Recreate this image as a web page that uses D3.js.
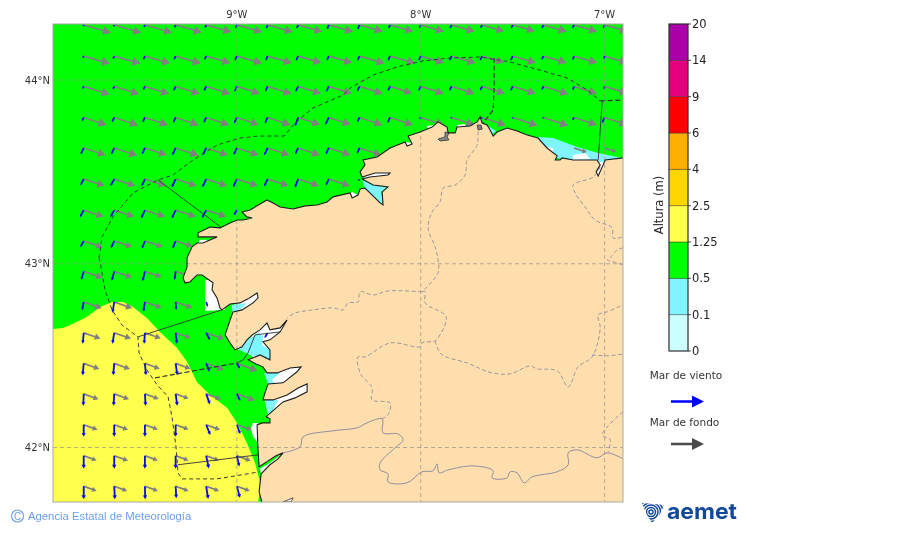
<!DOCTYPE html>
<html><head><meta charset="utf-8">
<script src="https://cdn.jsdelivr.net/npm/d3@7"></script>
<style>html,body{margin:0;padding:0;background:#fff}svg{display:block;filter:blur(.3px)}text{font-family:"DejaVu Sans",sans-serif}</style>
</head><body><div id="c"></div>
<script>
// ---------- axis ticks
const lonTicks=[-9,-8,-7], lonLabels=["9°W","8°W","7°W"];
const latTicks=[44,43,42], latLabels=["44°N","43°N","42°N"];
// ---------- colour bar
const levels=["0","0.1","0.5","1.25","2.5","4","6","9","14","20"];
const levelColors=["#ccffff","#80f5ff","#00ff00","#ffff4d","#ffd700","#ffaf00","#ff0000","#e6007e","#aa00aa"];
// ---------- wave-field grid (degrees)
const gridLons=[-9.833,-9.667,-9.5,-9.333,-9.167,-9,-8.833,-8.667,-8.5,-8.333,-8.167,-8,-7.833,-7.667,-7.5,-7.333,-7.167,-7];
const gridLats=[44.30,44.13,43.965,43.796,43.63,43.461,43.292,43.124,42.958,42.792,42.624,42.458,42.292,42.124,41.955,41.789];
// swell height (cm), per row/column; _ = land
const _=null;
const swell=[
[113,113,113,109,105,105,105,101,101,97,97,97,97,92,92,97,97,97],
[109,109,105,105,101,105,101,97,97,105,105,97,101,92,97,97,97,97],
[109,105,101,101,101,97,101,97,97,97,92,97,97,97,97,105,97,97],
[97,101,97,97,97,92,97,92,92,97,97,97,97,101,105,105,97,97],
[92,97,92,97,92,92,92,92,92,92,92,_,_,_,_,_,55,50],
[88,88,88,88,88,88,88,88,88,0],
[84,84,84,84,84,0],
[80,76,76,71],
[80,76,71,71],
[76,76,71,71,0],
[71,71,67,63,76,_,0],
[67,67,63,63,76,88],
[63,63,59,55,63,76],
[59,59,55,55,59,63],
[55,59,55,55,55,59],
[55,55,55,55,55,55]];
// wind-sea height (cm)
const windSea=[
[6,8,10,12,14,16,16,16,20,20,16,16,16,14,16,16,16,16],
[8,12,16,16,16,20,20,20,20,20,20,20,20,20,20,16,16,12],
[10,12,16,20,20,24,24,24,24,22,20,20,20,18,20,16,16,12],
[16,20,22,24,24,26,26,36,32,20,24,8,4,4,4,4,12,24],
[28,28,28,32,32,32,32,28,28,24,8,_,_,_,_,_,0,0],
[28,32,32,36,36,36,32,36,28,8],
[32,32,36,36,36,24],
[28,32,32,32],
[36,38,40,34],
[34,44,40,32,20],
[44,44,44,44,32,_,24],
[48,48,48,48,36,24],
[48,48,48,48,44,32],
[48,48,48,48,44,40],
[52,52,52,52,52,44],
[52,52,52,48,52,48]];
// swell direction: degrees below due east, per row
const swellAngle=[16,16,17,18,18,18,18,18,18,19,19,20,20,20,20,20];
// wind-sea direction: degrees from due south, positive to the east
const windAngle=[
[-22,-22,-22,-22,-22,-22,-22,-22,-22,-22,-22,-22,-22,-22,-22,-22,-22,-22],
[-25,-25,-25,-25,-25,-25,-25,-25,-25,-25,-25,-25,-25,-25,-25,-25,-15,-15],
[-25,-25,-25,-25,-25,-25,-25,-25,-25,-25,-25,-25,-25,-25,-25,-25,-15,-15],
[-25,-25,-25,-25,-25,-25,-25,-20,-25,-25,-25,-25,-25,-25,-25,-25,-25,-25],
[-25,-25,-25,-25,-25,-25,-25,-25,-25,-25,-25,0,0,0,0,0,0,0],
[-28,-28,-25,-25,-25,-25,-25,-20,-25,-25],
[-28,-28,-25,-25,-28,-30],
[-28,-25,-22,-22],
[-16,-15,-14,-7],
[-11,-9,-9,4,18],
[-5,-9,-4,7,28,0,-30],
[-5,-5,5,8,22,30],
[-2,-3,3,8,20,25],
[0,0,0,0,22,20],
[0,0,0,0,12,13],
[0,3,1,3,9,15]];
// ---------- geography [lon,lat]
const coast=[[-8.863,41.699],[-8.879,41.759],[-8.868,41.857],[-8.820,41.906],[-8.776,41.938],[-8.749,41.971],[-8.787,41.955],[-8.830,41.927],[-8.879,41.895],[-8.885,41.987],[-8.890,42.123],[-8.863,42.134],[-8.820,42.134],[-8.820,42.156],[-8.841,42.167],[-8.830,42.178],[-8.749,42.248],[-8.684,42.270],[-8.618,42.303],[-8.618,42.346],[-8.667,42.324],[-8.727,42.286],[-8.803,42.259],[-8.858,42.259],[-8.847,42.297],[-8.836,42.330],[-8.830,42.346],[-8.749,42.352],[-8.673,42.412],[-8.651,42.439],[-8.711,42.433],[-8.781,42.406],[-8.836,42.406],[-8.858,42.439],[-8.896,42.455],[-8.939,42.477],[-8.874,42.504],[-8.820,42.477],[-8.820,42.531],[-8.858,42.575],[-8.820,42.586],[-8.765,42.629],[-8.727,42.694],[-8.765,42.651],[-8.820,42.640],[-8.836,42.678],[-8.874,42.640],[-8.917,42.613],[-8.945,42.586],[-8.972,42.548],[-9.010,42.531],[-9.037,42.569],[-9.064,42.613],[-9.037,42.694],[-9.021,42.738],[-8.972,42.749],[-8.912,42.787],[-8.885,42.814],[-8.890,42.841],[-8.939,42.809],[-8.983,42.787],[-9.037,42.781],[-9.081,42.749],[-9.092,42.760],[-9.108,42.814],[-9.135,42.858],[-9.130,42.896],[-9.189,42.939],[-9.217,42.939],[-9.255,42.901],[-9.282,42.896],[-9.293,42.923],[-9.271,42.983],[-9.271,43.032],[-9.244,43.092],[-9.217,43.113],[-9.184,43.113],[-9.108,43.146],[-9.162,43.146],[-9.211,43.146],[-9.211,43.168],[-9.146,43.200],[-9.092,43.195],[-9.037,43.222],[-8.999,43.238],[-8.966,43.238],[-8.917,43.249],[-8.945,43.255],[-8.972,43.282],[-8.928,43.293],[-8.874,43.325],[-8.836,43.347],[-8.803,43.331],[-8.765,43.309],[-8.694,43.298],[-8.629,43.315],[-8.564,43.320],[-8.509,43.336],[-8.477,43.364],[-8.384,43.385],[-8.373,43.358],[-8.341,43.374],[-8.330,43.407],[-8.303,43.412],[-8.221,43.331],[-8.205,43.320],[-8.210,43.391],[-8.178,43.418],[-8.259,43.429],[-8.319,43.461],[-8.276,43.472],[-8.178,43.483],[-8.167,43.494],[-8.248,43.494],[-8.319,43.472],[-8.330,43.500],[-8.303,43.538],[-8.314,43.565],[-8.237,43.581],[-8.167,43.630],[-8.085,43.663],[-8.074,43.641],[-8.047,43.652],[-8.069,43.695],[-8.004,43.717],[-7.938,43.744],[-7.906,43.772],[-7.857,43.744],[-7.851,43.712],[-7.813,43.712],[-7.802,43.744],[-7.732,43.750],[-7.693,43.772],[-7.677,43.799],[-7.666,43.766],[-7.639,43.755],[-7.623,43.728],[-7.606,43.695],[-7.585,43.717],[-7.530,43.739],[-7.476,43.723],[-7.421,43.701],[-7.362,43.684],[-7.313,43.630],[-7.258,43.587],[-7.269,43.565],[-7.242,43.565],[-7.231,43.576],[-7.171,43.565],[-7.041,43.565],[-7.024,43.538],[-7.046,43.500],[-7.035,43.478],[-7.008,43.538],[-6.997,43.565],[-6.900,43.576]];
const landCorners=[[-6.900,41.70],[-8.863,41.70]];
const yellowArea=[[-10,42.645],[-9.946,42.651],[-9.891,42.673],[-9.815,42.711],[-9.744,42.765],[-9.679,42.792],[-9.619,42.792],[-9.565,42.765],[-9.489,42.705],[-9.418,42.629],[-9.325,42.542],[-9.271,42.466],[-9.217,42.357],[-9.146,42.286],[-9.053,42.216],[-8.999,42.134],[-8.945,42.025],[-8.901,41.916],[-8.874,41.813],[-8.879,41.732],[-8.885,41.703],[-10,41.703]];
const whiteAreas=[
[[-9.173,42.912],[-9.135,42.912],[-9.064,42.749],[-9.173,42.743]],
[[-8.912,42.134],[-8.885,42.134],[-8.885,42.025],[-8.912,42.058],[-8.923,42.107]],
[[-8.401,43.374],[-8.373,43.391],[-8.341,43.374],[-8.373,43.353]],
[[-9.206,43.130],[-9.162,43.130],[-9.162,43.113],[-9.206,43.113]],
[[-7.965,43.750],[-7.922,43.755],[-7.917,43.733],[-7.965,43.728]],
[[-7.802,43.755],[-7.759,43.761],[-7.753,43.739],[-7.802,43.739]],
[[-8.085,43.663],[-8.042,43.657],[-8.047,43.641],[-8.074,43.636]],
[[-7.041,43.559],[-6.997,43.559],[-7.008,43.532],[-7.035,43.478],[-7.052,43.500]],
[[-8.319,43.489],[-8.156,43.505],[-8.156,43.472],[-8.276,43.461],[-8.319,43.472]],
[[-9.026,42.771],[-8.874,42.847],[-8.874,42.803],[-8.972,42.738],[-9.021,42.727]],
[[-8.956,42.569],[-8.885,42.640],[-8.820,42.684],[-8.722,42.705],[-8.754,42.613],[-8.792,42.466],[-8.901,42.477],[-8.939,42.520]],
[[-8.841,42.412],[-8.645,42.450],[-8.667,42.401],[-8.743,42.341],[-8.830,42.335]],
[[-8.847,42.259],[-8.792,42.265],[-8.727,42.292],[-8.667,42.330],[-8.613,42.352],[-8.613,42.297],[-8.684,42.265],[-8.749,42.243],[-8.830,42.172]],
[[-8.874,41.884],[-8.820,41.916],[-8.776,41.949],[-8.743,41.976],[-8.776,41.933],[-8.820,41.900],[-8.868,41.857]]];
const cyanAreas=[
[[-7.362,43.690],[-7.280,43.684],[-7.149,43.636],[-7.035,43.603],[-6.905,43.576],[-6.997,43.554],[-7.171,43.554],[-7.258,43.576],[-7.313,43.625]],
[[-8.319,43.456],[-8.259,43.429],[-8.183,43.418],[-8.216,43.391],[-8.205,43.325],[-8.221,43.331],[-8.303,43.412]],
[[-9.026,42.776],[-8.945,42.787],[-8.972,42.760],[-9.021,42.732]],
[[-8.999,42.537],[-8.939,42.586],[-8.885,42.624],[-8.858,42.607],[-8.863,42.558],[-8.820,42.531],[-8.820,42.477],[-8.874,42.493],[-8.928,42.504]],
[[-8.852,42.406],[-8.765,42.406],[-8.809,42.368],[-8.792,42.346],[-8.830,42.346]],
[[-8.847,42.259],[-8.776,42.259],[-8.809,42.194],[-8.830,42.178]],
[[-7.645,43.755],[-7.590,43.723],[-7.612,43.706]]];
const cyanHoles=[
[[-7.313,43.636],[-7.280,43.630],[-7.280,43.608],[-7.308,43.614]],
[[-7.171,43.592],[-7.106,43.603],[-7.079,43.570],[-7.171,43.565]]];
const inlandWater=[
{fill:"#888",pts:[[-7.906,43.679],[-7.868,43.690],[-7.868,43.717],[-7.846,43.712],[-7.857,43.690],[-7.846,43.674],[-7.895,43.668]]},
{fill:"#777",pts:[[-7.693,43.755],[-7.672,43.755],[-7.666,43.733],[-7.688,43.728]]},
{fill:"#fff",pts:[[-8.749,41.704],[-8.694,41.726],[-8.705,41.704]]}];
const seaLimitDashed=[
[[-7.601,44.120],[-7.601,43.962],[-7.606,43.837],[-7.661,43.766]],
[[-9.445,42.379],[-8.999,42.460]],
[[-7.024,43.886],[-6.900,43.891]]];
const seaArc=[
[[-9.750,43.032],[-9.733,43.146],[-9.674,43.255],[-9.565,43.385],[-9.429,43.456],[-9.347,43.483],[-9.238,43.565],[-9.108,43.646],[-8.983,43.684],[-8.885,43.695],[-8.743,43.695],[-8.684,43.766],[-8.586,43.848],[-8.422,43.918],[-8.384,43.956],[-8.259,44.027],[-8.129,44.071],[-7.993,44.103],[-7.840,44.120],[-7.677,44.125],[-7.514,44.098],[-7.351,44.054],[-7.204,44.011],[-7.095,43.946],[-7.024,43.886]],
[[-9.750,43.032],[-9.744,43.010],[-9.717,42.858],[-9.679,42.749],[-9.625,42.667],[-9.538,42.602],[-9.532,42.515],[-9.489,42.422],[-9.434,42.341],[-9.374,42.276],[-9.353,42.167],[-9.331,42.004],[-9.320,41.862],[-9.298,41.829],[-9.108,41.829],[-8.874,41.868]]];
const seaLimitSolid=[
[[-9.429,43.456],[-9.081,43.195]],
[[-9.538,42.602],[-9.081,42.749]],
[[-8.999,42.460],[-8.966,42.477],[-8.939,42.515],[-8.901,42.613],[-8.765,42.629]],
[[-9.320,41.906],[-8.885,41.960]],
[[-7.013,43.886],[-7.035,43.565]]];
const riverBorder=[[-8.749,41.971],[-8.656,42.004],[-8.640,42.058],[-8.477,42.091],[-8.346,42.107],[-8.292,42.134],[-8.210,42.156],[-8.205,42.080],[-8.123,42.074],[-8.096,42.042],[-8.140,41.998],[-8.221,41.916],[-8.221,41.878],[-8.178,41.857],[-8.178,41.813],[-8.074,41.808],[-7.993,41.868],[-7.933,41.873],[-7.911,41.911],[-7.900,41.862],[-7.851,41.878],[-7.715,41.900],[-7.606,41.873],[-7.612,41.835],[-7.530,41.835],[-7.514,41.868],[-7.476,41.862],[-7.438,41.808],[-7.394,41.840],[-7.258,41.868],[-7.198,41.906],[-7.198,41.971],[-7.149,41.987],[-7.041,41.944],[-6.986,41.971],[-6.900,41.938]];
const provinces=[
[[-7.677,43.755],[-7.688,43.712],[-7.693,43.646],[-7.748,43.565],[-7.759,43.483],[-7.813,43.429],[-7.878,43.412],[-7.895,43.336],[-7.938,43.282],[-7.960,43.195],[-7.922,43.092],[-7.906,43.021],[-7.906,42.950],[-7.993,42.847]],
[[-7.993,42.847],[-8.178,42.852],[-8.259,42.830],[-8.330,42.847],[-8.341,42.792],[-8.395,42.787],[-8.422,42.749],[-8.477,42.760],[-8.586,42.749],[-8.684,42.732],[-8.727,42.705]],
[[-7.993,42.847],[-7.976,42.847],[-7.976,42.787],[-7.862,42.711],[-7.906,42.596],[-7.922,42.580],[-7.993,42.569],[-8.004,42.548],[-8.167,42.569],[-8.303,42.493],[-8.341,42.493],[-8.330,42.406],[-8.265,42.324],[-8.265,42.259],[-8.167,42.243],[-8.178,42.178],[-8.210,42.156]],
[[-7.922,42.580],[-7.889,42.509],[-7.748,42.460],[-7.612,42.406],[-7.514,42.401],[-7.405,42.444],[-7.367,42.428],[-7.258,42.417],[-7.198,42.330],[-7.144,42.439],[-7.068,42.493],[-7.024,42.651],[-7.035,42.722],[-6.986,42.738],[-6.900,42.776]],
[[-7.068,42.504],[-6.986,42.499],[-6.900,42.509]],
[[-6.900,42.194],[-7.013,42.069],[-6.970,42.042],[-6.981,41.976]],
[[-7.024,43.527],[-7.062,43.472],[-7.171,43.429],[-7.160,43.385],[-7.106,43.309],[-7.052,43.238],[-6.959,43.195],[-6.954,43.140],[-6.900,43.146]],
[[-6.900,43.086],[-6.932,43.075],[-6.970,43.032],[-6.986,43.021],[-6.932,43.004],[-6.900,42.994]]];

// ---------- scales
const svg=d3.select("#c").append("svg").attr("width",900).attr("height",533);
const x=d3.scaleLinear([-10,-6.9],[53,623]);
const y=d3.scaleLinear([44,42],[80,447.5]);
const pT=24,pB=502,pL=53,pR=623;
const arrowLen=d3.scaleLinear([0,100],[0,25]);
const line=d3.line().x(d=>x(d[0])).y(d=>y(d[1]));
const smooth=d3.line().x(d=>x(d[0])).y(d=>y(d[1])).curve(d3.curveCatmullRom.alpha(.5));
const ring=pts=>line(pts)+"Z";

svg.append("clipPath").attr("id","plot").append("rect").attr("x",pL).attr("y",pT).attr("width",pR-pL).attr("height",pB-pT);
const map=svg.append("g").attr("clip-path","url(#plot)");
map.append("rect").attr("x",pL).attr("y",pT).attr("width",pR-pL).attr("height",pB-pT).attr("fill",levelColors[2]);
map.append("path").attr("d",ring(yellowArea)).attr("fill",levelColors[3]);
map.append("g").selectAll("path").data(whiteAreas).join("path").attr("d",ring).attr("fill","#fff");
map.append("g").selectAll("path").data(cyanAreas).join("path").attr("d",ring).attr("fill","#7ff5ff");
map.append("g").selectAll("path").data(cyanHoles).join("path").attr("d",ring).attr("fill","#fff");

// arrows
function arrowPath(px,py,ang,L,sw,hl,hw,frac){
  const p=d3.path(),c=Math.cos(ang),s=Math.sin(ang),nx=-s,ny=c;
  const h=Math.min(hl,L*frac),w=Math.max(sw,h*hw/hl);
  const bx=px+c*(L-h),by=py+s*(L-h);
  p.moveTo(px+nx*sw/2,py+ny*sw/2);p.lineTo(bx+nx*sw/2,by+ny*sw/2);p.lineTo(bx+nx*w/2,by+ny*w/2);
  p.lineTo(px+c*L,py+s*L);p.lineTo(bx-nx*w/2,by-ny*w/2);p.lineTo(bx-nx*sw/2,by-ny*sw/2);p.lineTo(px-nx*sw/2,py-ny*sw/2);p.closePath();
  return p.toString();
}
const rad=Math.PI/180;
const swellCells=[],windCells=[];
gridLats.forEach((la,r)=>gridLons.forEach((lo,c)=>{
  const a=swell[r][c],b=windSea[r][c];
  if(a) swellCells.push({lo,la,v:a,ang:swellAngle[r]*rad});
  if(b) windCells.push({lo,la,v:b,ang:(90-windAngle[r][c])*rad});
}));
map.append("g").selectAll("path").data(swellCells).join("path")
  .attr("d",d=>arrowPath(x(d.lo),y(d.la),d.ang,arrowLen(d.v),1.7,8,9,0.33)).attr("fill","#808080");
map.append("g").selectAll("path").data(windCells).join("path")
  .attr("d",d=>arrowPath(x(d.lo),y(d.la),d.ang,arrowLen(d.v),1.8,4,4.4,0.3)).attr("fill","#0808f0");

// land
map.append("path").attr("d",ring(coast.concat(landCorners))).attr("fill","#ffdead");
map.append("g").selectAll("path").data(inlandWater).join("path").attr("d",d=>ring(d.pts)).attr("fill",d=>d.fill).attr("stroke","#333").attr("stroke-width",.8);

// graticule
const gl=map.append("g").attr("stroke","#8c8c8c").attr("stroke-opacity",.65).attr("stroke-width",1).attr("stroke-dasharray","4,3");
gl.append("g").selectAll("line").data(lonTicks).join("line").attr("x1",d=>x(d)).attr("x2",d=>x(d)).attr("y1",pT).attr("y2",pB);
gl.append("g").selectAll("line").data(latTicks).join("line").attr("y1",d=>y(d)).attr("y2",d=>y(d)).attr("x1",pL).attr("x2",pR);

// coast and borders
map.append("g").selectAll("path").data(provinces).join("path").attr("d",smooth).attr("fill","none").attr("stroke","#8f8fa0").attr("stroke-width",.9).attr("stroke-dasharray","4,2.5");
map.append("path").attr("d",smooth(riverBorder)).attr("fill","none").attr("stroke","#8f8fa0").attr("stroke-width",1);
map.append("path").attr("d",line(coast)).attr("fill","none").attr("stroke","#1c1c1c").attr("stroke-width",1.1);
map.append("g").selectAll("path").data(seaArc).join("path").attr("d",line).attr("fill","none").attr("stroke","#333").attr("stroke-width",.95).attr("stroke-dasharray","4,3");
map.append("g").selectAll("path").data(seaLimitDashed).join("path").attr("d",line).attr("fill","none").attr("stroke","#333").attr("stroke-width",1.2).attr("stroke-dasharray","5,2.5");
map.append("g").selectAll("path").data(seaLimitSolid).join("path").attr("d",line).attr("fill","none").attr("stroke","#333").attr("stroke-opacity",.9).attr("stroke-width",1);

svg.append("rect").attr("x",pL).attr("y",pT).attr("width",pR-pL).attr("height",pB-pT).attr("fill","none").attr("stroke","#a8a8a0").attr("stroke-width",1);

// axis labels
svg.append("g").selectAll("text").data(lonTicks).join("text").attr("x",d=>x(d)).attr("y",18).attr("text-anchor","middle").attr("font-size",10).attr("fill","#333").text((d,i)=>lonLabels[i]);
svg.append("g").selectAll("text").data(latTicks).join("text").attr("x",50).attr("y",d=>y(d)+3.5).attr("text-anchor","end").attr("font-size",10).attr("fill","#333").text((d,i)=>latLabels[i]);

// colour bar
const cbX=669,cbW=19;
const cb=d3.scalePoint(levels,[351,24]);
const cbg=svg.append("g");
cbg.append("g").selectAll("rect").data(levelColors).join("rect").attr("x",cbX).attr("width",cbW)
  .attr("y",(d,i)=>cb(levels[i+1])).attr("height",(d,i)=>cb(levels[i])-cb(levels[i+1])).attr("fill",d=>d).attr("stroke","#333").attr("stroke-opacity",.55).attr("stroke-width",.8);
cbg.append("rect").attr("x",cbX).attr("y",24).attr("width",cbW).attr("height",327).attr("fill","none").attr("stroke","#333").attr("stroke-width",1);
cbg.append("g").selectAll("line").data(levels).join("line").attr("x1",cbX+cbW).attr("x2",cbX+cbW+3).attr("y1",d=>cb(d)).attr("y2",d=>cb(d)).attr("stroke","#222").attr("stroke-width",.8);
cbg.append("g").selectAll("text").data(levels).join("text").attr("x",692).attr("y",d=>cb(d)+4).attr("font-size",11.5).attr("fill","#222").text(d=>d);
svg.append("text").attr("transform","translate(663,205) rotate(-90)").attr("text-anchor","middle").attr("font-size",11.5).attr("fill","#222").text("Altura (m)");

// legend
svg.append("text").attr("x",686).attr("y",379).attr("text-anchor","middle").attr("font-size",10.5).attr("fill","#333").text("Mar de viento");
svg.append("path").attr("d",arrowPath(671,401.5,0,33,2.4,12,12,0.45)).attr("fill","#0000ff");
svg.append("text").attr("x",684.5).attr("y",426).attr("text-anchor","middle").attr("font-size",10.5).attr("fill","#333").text("Mar de fondo");
svg.append("path").attr("d",arrowPath(671,444,0,33,2.6,12,12,0.45)).attr("fill","#4a4a4a");

// footer
svg.append("circle").attr("cx",17.5).attr("cy",516).attr("r",6).attr("fill","none").attr("stroke","#6d9eeb").attr("stroke-width",1.1);
svg.append("text").attr("x",17.5).attr("y",519.5).attr("text-anchor","middle").attr("font-size",10).attr("fill","#6d9eeb").style("font-family","Liberation Sans").text("C");
svg.append("text").attr("x",28).attr("y",520).attr("font-size",11.3).attr("fill","#6d9eeb").style("font-family","Liberation Sans").text("Agencia Estatal de Meteorología");

// logo
const logo=svg.append("g").attr("fill","none").attr("stroke","#12479a");
logo.append("clipPath").attr("id","lg").append("path").attr("d","M642 503L664 505L660 514L652 523L647 515Z");
const lgIn=logo.append("g").attr("clip-path","url(#lg)");
[2,4.5,7,9.5,12,15].forEach(r=>lgIn.append("circle").attr("cx",651).attr("cy",512).attr("r",r).attr("stroke-width",1.5));
svg.append("text").attr("x",667).attr("y",519).attr("font-size",22).attr("font-weight",700).attr("fill","#12479a").attr("textLength",70).attr("lengthAdjust","spacingAndGlyphs").style("font-family","Inter").text("aemet");
</script></body></html>
